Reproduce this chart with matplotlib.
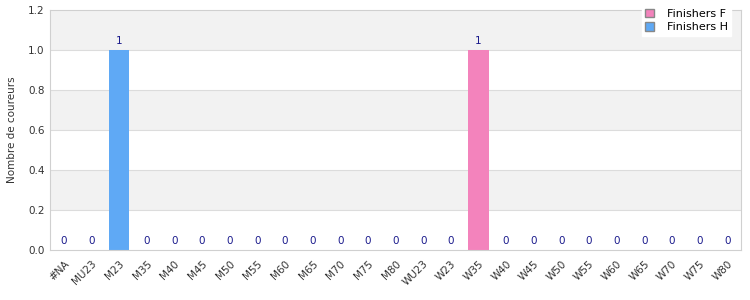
import matplotlib.pyplot as plt
from matplotlib.patches import Patch

categories = ["#NA", "MU23", "M23", "M35", "M40", "M45", "M50", "M55", "M60", "M65",
              "M70", "M75", "M80", "WU23", "W23", "W35", "W40", "W45", "W50", "W55",
              "W60", "W65", "W70", "W75", "W80"]
# values per category (None = series not present in that category)
finishers_h = [0, 0, 1, 0, 0, 0, 0, 0, 0, 0, 0, 0, 0, None, None, None, None, None,
               None, None, None, None, None, None, None]
finishers_f = [None, None, None, None, None, None, None, None, None, None, None, None,
               None, 0, 0, 1, 0, 0, 0, 0, 0, 0, 0, 0, 0]

col_f = "#f383bc"
col_h = "#5fa9f5"
lab_col = "#1a1a8c"

fig = plt.figure(figsize=(7.5, 3), dpi=100)
ax = fig.add_axes([50 / 750, 50 / 300, 691 / 750, 240 / 300])

x = list(range(len(categories)))
# alternating bands
for i, lo in enumerate([0.0, 0.2, 0.4, 0.6, 0.8, 1.0]):
    if i % 2 == 1:
        ax.axhspan(lo, lo + 0.2, color="#f2f2f2", zorder=0, lw=0)
for y in [0.2, 0.4, 0.6, 0.8, 1.0]:
    ax.axhline(y, color="#dcdcdc", lw=0.8, zorder=1)

for series, col in [(finishers_f, col_f), (finishers_h, col_h)]:
    xs = [i for i, v in zip(x, series) if v is not None]
    vs = [v for v in series if v is not None]
    ax.bar(xs, vs, width=0.75, color=col, zorder=2)
    for xi, v in zip(xs, vs):
        ax.text(xi, v + 0.02, str(v), ha="center", va="bottom", color=lab_col,
                fontsize=7.5, zorder=3)

ax.set_xlim(-0.5, len(categories) - 0.5)
ax.set_ylim(0, 1.2)
ax.set_yticks([0, 0.2, 0.4, 0.6, 0.8, 1.0, 1.2])
ax.set_yticklabels(["0.0", "0.2", "0.4", "0.6", "0.8", "1.0", "1.2"])
ax.set_xticks(x)
ax.set_xticklabels(categories, rotation=45, ha="right", rotation_mode="anchor")
ax.tick_params(axis="both", length=0, labelsize=7.5, colors="#333333", pad=4)
ax.tick_params(axis="x", pad=6)
ax.set_ylabel("Nombre de coureurs", fontsize=7.5, color="#333333", labelpad=8)
for s in ["left", "right", "bottom", "top"]:
    ax.spines[s].set_color("#d0d0d0")

handles = [Patch(facecolor=col_f, edgecolor="#888888", label="Finishers F"),
           Patch(facecolor=col_h, edgecolor="#888888", label="Finishers H")]
leg = fig.legend(handles=handles, loc="upper right", bbox_to_anchor=(737 / 750, 1.0),
                 fontsize=8, frameon=True, fancybox=False, handlelength=0.8,
                 handleheight=0.8, borderpad=0.3, labelspacing=0.3, handletextpad=1.2)
leg.get_frame().set_edgecolor("white")
leg.get_frame().set_facecolor("white")
leg.get_frame().set_alpha(1)

fig.savefig("out.png", dpi=100)
